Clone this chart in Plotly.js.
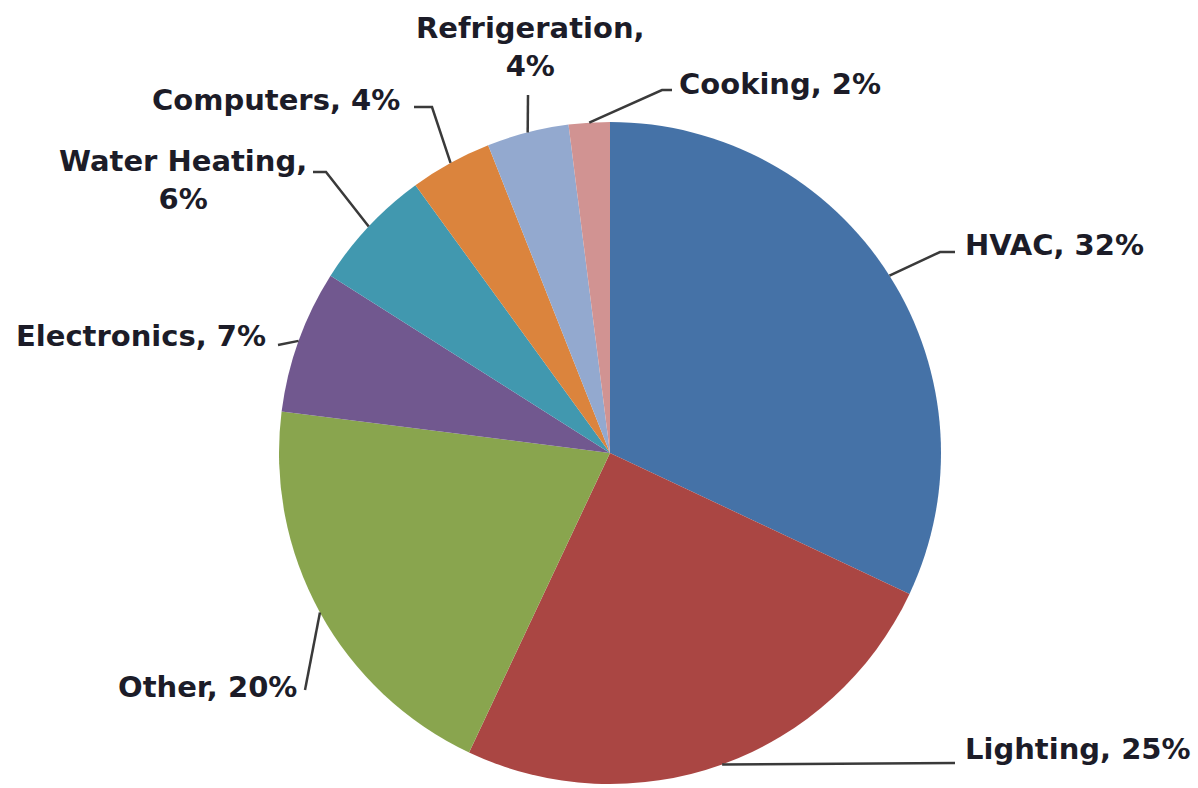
<!DOCTYPE html>
<html>
<head>
<meta charset="utf-8">
<script src="https://cdn.plot.ly/plotly-3.0.1.min.js"></script>
<style>html,body{margin:0;padding:0;background:#fff;}#chart{width:1198px;height:788px;}</style>
</head>
<body>
<div id="chart"></div>
<script>
// ---- data ----
const categories = ["HVAC", "Lighting", "Other", "Electronics", "Water Heating", "Computers", "Refrigeration", "Cooking"];
const shares = [32, 25, 20, 7, 6, 4, 4, 2];
const sliceColors = ["#4572A7", "#AA4643", "#89A54E", "#71588F", "#4198AF", "#DB843D", "#93A9CF", "#D19392"];

// ---- layout geometry (pixels) ----
const W = 1198, H = 788;
const CX = 610, CY = 453, R = 331;

// label placement: text position, anchor, line break, elbow points
const labelLayout = [
  {x: 963, y: 245, xa: "left",  br: false, pts: [[940, 252], [955, 252]]},
  {x: 963, y: 749, xa: "left",  br: false, pts: [[955, 763]]},
  {x: 299, y: 687, xa: "right", br: false, pts: [[305, 690]]},
  {x: 268, y: 336, xa: "right", br: false, pts: [[278, 345]]},
  {x: 183, y: 180, xa: "center", br: true, pts: [[326, 172], [313, 172]]},
  {x: 402, y: 100, xa: "right", br: false, pts: [[432, 107], [414, 107]]},
  {x: 530, y: 47,  xa: "center", br: true, pts: [[528, 95]]},
  {x: 677, y: 84,  xa: "left",  br: false, pts: [[662, 90], [672, 90]]}
];

const px = x => x / W;
const py = y => 1 - y / H;

const total = shares.reduce((a, b) => a + b, 0);
const annotations = [];
const shapes = [];
let cum = 0;
shares.forEach((v, i) => {
  const th = 2 * Math.PI * (cum + v / 2) / total;
  cum += v;
  const ex = CX + R * Math.sin(th);
  const ey = CY - R * Math.cos(th);
  const L = labelLayout[i];
  let path = "M" + px(ex) + "," + py(ey);
  L.pts.forEach(p => { path += " L" + px(p[0]) + "," + py(p[1]); });
  shapes.push({type: "path", xref: "paper", yref: "paper", path: path,
    line: {color: "#3a3a3a", width: 2.5}});
  const txt = categories[i] + "," + (L.br ? "<br>" : " ") + v + "%";
  annotations.push({text: txt, x: px(L.x), y: py(L.y), xref: "paper", yref: "paper",
    xanchor: L.xa, yanchor: "middle", align: "center", showarrow: false,
    font: {family: "DejaVu Sans", size: 29, color: "#1c1c28", weight: "bold"}});
});

const trace = {
  type: "pie",
  labels: categories,
  values: shares,
  sort: false,
  direction: "clockwise",
  rotation: 0,
  textinfo: "none",
  hoverinfo: "label+percent",
  marker: {colors: sliceColors, line: {width: 0}},
  domain: {x: [px(CX - R), px(CX + R)], y: [py(CY + R), py(CY - R)]},
  showlegend: false
};

Plotly.newPlot("chart", [trace], {
  width: W, height: H,
  margin: {l: 0, r: 0, t: 0, b: 0},
  paper_bgcolor: "#ffffff",
  showlegend: false,
  annotations: annotations,
  shapes: shapes
}, {displayModeBar: false, staticPlot: true});
</script>
</body>
</html>
